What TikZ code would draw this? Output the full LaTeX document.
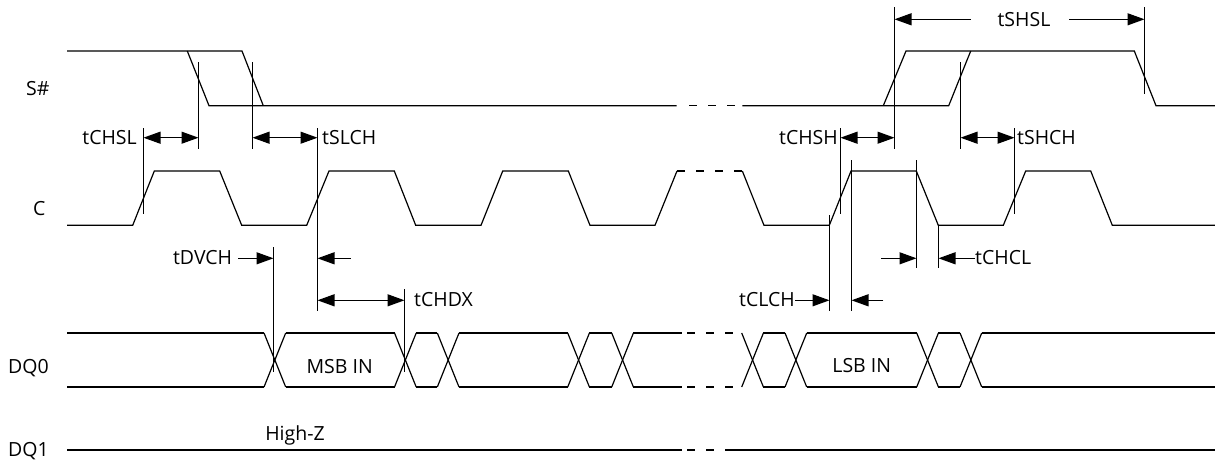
\documentclass[tikz,border=0pt]{standalone}
\usepackage{fontspec}
\setmainfont{Open Sans}
\usetikzlibrary{arrows.meta}
\begin{document}
\begin{tikzpicture}[x=1pt,y=-1pt,
  sig/.style={line width=1.2pt, line join=miter},
  dsh/.style={sig, dash pattern=on 8pt off 11pt},
  tick/.style={line width=1pt},
  tipr/.style={-{Triangle[length=17pt,width=12pt]}, line width=1.1pt},
  tipb/.style={{Triangle[length=17pt,width=12pt]}-{Triangle[length=17pt,width=12pt]}, line width=1.1pt},
  lbl/.style={inner sep=0pt, font=\fontsize{19.5}{23}\selectfont}]
\useasboundingbox (0,0) rectangle (1215,466);

% ---------- S# ----------
\draw[sig] (67,51) -- (242,51) -- (263.3,105.7);
\draw[sig] (187.3,51) -- (209,105.7) -- (676.7,105.7);
\draw[dsh] (689,105.7) -- (742.3,105.7);
\draw[sig] (742.3,105.7) -- (948.7,105.7) -- (970.7,51);
\draw[sig] (883.3,105.7) -- (906,51) -- (1134.3,51) -- (1156,105.7) -- (1215,105.7);

% ---------- C ----------
\def\H{171}\def\L{225.3}
\draw[sig] (67,\L) -- (132.7,\L) -- (154.3,\H) -- (219.7,\H) -- (241.7,\L) -- (306.7,\L) -- (329,\H) -- (394.3,\H) -- (415.7,\L) -- (481,\L) -- (502.7,\H) -- (568.3,\H) -- (590,\L) -- (655,\L) -- (677,\H);
\draw[dsh] (677,\H) -- (742.3,\H);
\draw[sig] (742.3,\H) -- (764,\L) -- (829.3,\L) -- (851,\H) -- (916.3,\H) -- (938.3,\L) -- (1003.3,\L) -- (1025.7,\H) -- (1090.7,\H) -- (1112.3,\L) -- (1215,\L);

% ---------- DQ0 ----------
\def\T{333}\def\B{387}
\foreach \y in {\T,\B}{
  \draw[sig] (67,\y) -- (264,\y);
  \draw[sig] (285.7,\y) -- (394.5,\y);
  \draw[sig] (416.2,\y) -- (437.3,\y);
  \draw[sig] (459,\y) -- (567.7,\y);
  \draw[sig] (589.4,\y) -- (611.7,\y);
  \draw[sig] (633.4,\y) -- (681.7,\y);
  \draw[dsh] (687,\y) -- (741.7,\y);
  \draw[sig] (763.4,\y) -- (785,\y);
  \draw[sig] (806.7,\y) -- (916.7,\y);
  \draw[sig] (938.4,\y) -- (960,\y);
  \draw[sig] (981.7,\y) -- (1215,\y);
}
\foreach \a in {264,394.5,437.3,567.7,611.7,741.7,785,916.7,960}{
  \draw[sig] (\a,\T) -- ++(21.7,54);
  \draw[sig] (\a,\B) -- ++(21.7,-54);
}

% ---------- DQ1 ----------
\draw[sig] (67,450) -- (681.7,450);
\draw[dsh] (687,450) -- (731.7,450);
\draw[sig] (731.7,450) -- (1215,450);

% ---------- signal names ----------
\node[lbl, anchor=base west] (nS) at (26,95) {S\#};
\node[lbl, anchor=base west] (nC) at (33,215) {C};
\node[lbl, anchor=base west] (nD0) at (8,373.3) {DQ0};
\node[lbl, anchor=base west] (nD1) at (8,456.5) {DQ1};
\node[lbl, anchor=base] (msb) at (339.7,373.3) {MSB IN};
\node[lbl, anchor=base] (lsb) at (861.7,372.5) {LSB IN};
\node[lbl, anchor=base] (hz) at (295,440) {High-Z};

% ---------- reference lines ----------
\coordinate (va1) at (198.5,62);     \coordinate (vb1) at (198.5,149);
\coordinate (va2) at (252.5,62);     \coordinate (vb2) at (252.5,149);
\coordinate (va3) at (143.5,128);    \coordinate (vb3) at (143.5,214);
\coordinate (va4) at (317.5,128);    \coordinate (vb4) at (317.5,311);
\coordinate (va5) at (273.5,247.3);  \coordinate (vb5) at (273.5,372.3);
\coordinate (va6) at (404.5,289.3);  \coordinate (vb6) at (404.5,372.3);
\coordinate (va7) at (894.5,7.3);    \coordinate (vb7) at (894.5,149);
\coordinate (va8) at (1144.5,7.3);   \coordinate (vb8) at (1144.5,94.3);
\coordinate (va9) at (840.5,128);    \coordinate (vb9) at (840.5,214);
\coordinate (va10) at (960.5,62);    \coordinate (vb10) at (960.5,149);
\coordinate (va11) at (1014.5,128);  \coordinate (vb11) at (1014.5,214);
\coordinate (va12) at (829.5,215);   \coordinate (vb12) at (829.5,311);
\coordinate (va13) at (851.5,160.3); \coordinate (vb13) at (851.5,311);
\coordinate (va14) at (916.5,160.3); \coordinate (vb14) at (916.5,268.3);
\coordinate (va15) at (938.5,225);   \coordinate (vb15) at (938.5,268.3);
\foreach \i in {1,...,15}{\draw[tick] (va\i) -- (vb\i);}

% ---------- timing labels and arrows ----------
\node[lbl, anchor=base east] (tCHSL) at (137,144) {tCHSL};
\draw[tipb] (va3 |- 0,137.7) -- (va1 |- 0,137.7);
\node[lbl, anchor=base west] (tSLCH) at (322,144) {tSLCH};
\draw[tipb] (va2 |- 0,137.7) -- (va4 |- 0,137.7);

\node[lbl, anchor=base] (tSHSL) at (1024,26) {tSHSL};
\coordinate (shslL) at (970.7,19.3);
\coordinate (shslR) at (1069.3,19.3);
\draw[tipr] (shslL) -- (va7 |- shslL);
\draw[tipr] (shslR) -- (va8 |- shslR);

\node[lbl, anchor=base east] (tCHSH) at (838,144) {tCHSH};
\draw[tipb] (va9 |- 0,137.7) -- (va7 |- 0,137.7);
\node[lbl, anchor=base west] (tSHCH) at (1017,144) {tSHCH};
\draw[tipb] (va10 |- 0,137.7) -- (va11 |- 0,137.7);

\node[lbl, anchor=base east] (tDVCH) at (232.3,264.3) {tDVCH};
\draw[tipr] (238.3,258.3) -- (va5 |- 0,258.3);
\coordinate (chdxA) at (350.7,258.3);
\draw[tipr] (chdxA) -- (va4 |- chdxA);
\node[lbl, anchor=base west] (tCHDX) at (414,306.7) {tCHDX};
\draw[tipb] (va4 |- 0,300.3) -- (va6 |- 0,300.3);

\coordinate (chclA) at (881,258.3);
\draw[tipr] (chclA) -- (va14 |- chclA);
\node[lbl, anchor=base west] (tCHCL) at (975,264.3) {tCHCL};
\draw[tipr] (tCHCL.west |- 0,258.3) -- (va15 |- 0,258.3);

\node[lbl, anchor=base east] (tCLCH) at (795,306.7) {tCLCH};
\draw[tipr] (tCLCH.east |- 0,300.3) -- (va12 |- 0,300.3);
\coordinate (clchA) at (883.3,300.3);
\draw[tipr] (clchA) -- (va13 |- clchA);
\end{tikzpicture}
\end{document}
